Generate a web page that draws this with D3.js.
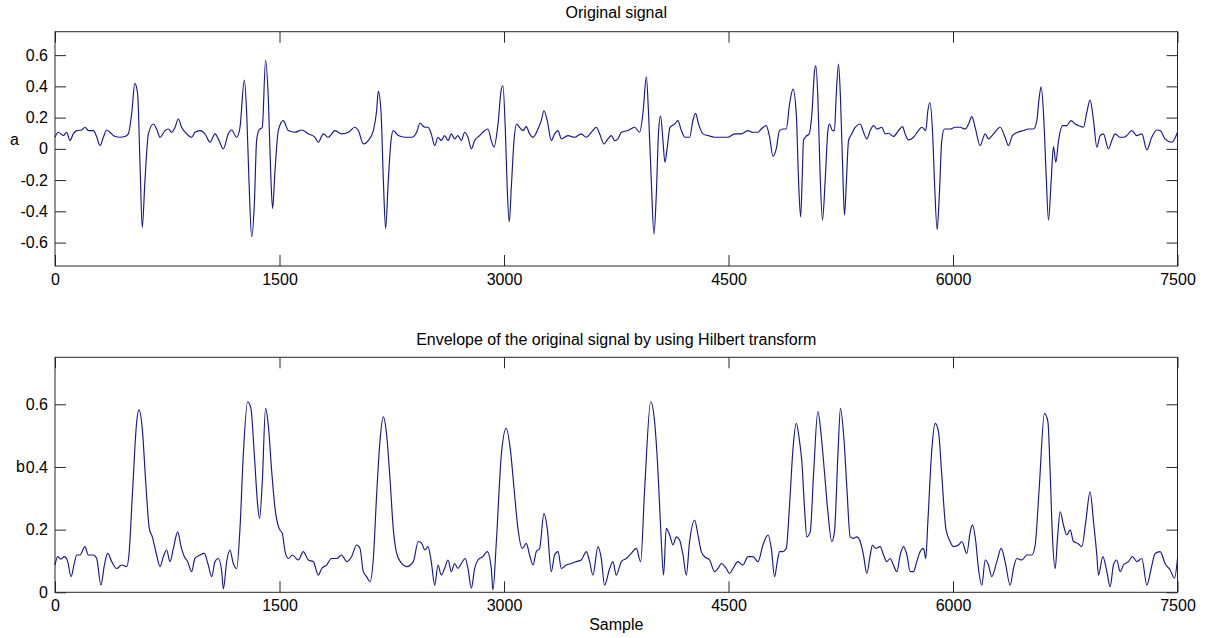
<!DOCTYPE html>
<html>
<head>
<meta charset="utf-8">
<script src="https://cdn.jsdelivr.net/npm/d3@7"></script>
<style>
  html, body { margin: 0; padding: 0; background: #ffffff; }
  svg { display: block; font-family: "Liberation Sans", Arial, Helvetica, sans-serif; }
</style>
</head>
<body>
<svg id="chart" width="1206" height="638"></svg>
<script>
// ---------- data ----------
const titleA = "Original signal";
const titleB = "Envelope of the original signal by using Hilbert transform";
const xLabel = "Sample";
const yLabelA = "a";
const yLabelB = "b";

const xTicks = [0, 1500, 3000, 4500, 6000, 7500];
const yTicksA = [-0.6, -0.4, -0.2, 0, 0.2, 0.4, 0.6];
const yTicksB = [0, 0.2, 0.4, 0.6];
const xDomain = [0, 7500];
const yDomainA = [-0.75, 0.75];
const yDomainB = [0, 0.75];

// Original signal (sample index, amplitude)
const sampleA = [0,22,56,78,100,122,145,178,200,223,256,278,301,323,345,367,401,434,468,490,512,534,552,568,583,601,624,657,679,702,735,757,779,802,824,846,880,913,935,969,1002,1036,1069,1091,1125,1158,1180,1214,1236,1265,1281,1296,1314,1332,1347,1363,1385,1407,1425,1443,1454,1470,1492,1525,1559,1603,1648,1693,1737,1759,1793,1826,1871,1915,1960,2004,2027,2060,2093,2127,2149,2160,2178,2194,2209,2227,2245,2260,2294,2338,2383,2416,2439,2472,
2492,2514,2537,2559,2581,2603,2626,2648,2670,2692,2715,2737,2759,2782,2804,2837,2871,2893,2915,2933,2960,2982,2993,3009,3022,3035,3049,3067,3084,3104,3127,3149,3171,3194,3227,3249,3267,3289,3316,3338,3361,3383,3427,3472,3516,3550,3583,3617,3639,3668,3695,3717,3739,3761,3784,3828,3873,3906,3928,3951,3966,3984,4002,4017,4033,4046,4062,4075,4091,4109,4140,4162,4185,4211,4240,4262,4280,4300,4329,4363,4407,4452,4496,4541,4585,4630,4663,4697,4719,4752,4775,4797,4819,4841,4864,4886,4908,4931,4953,4968,4982,4992,
5001,5017,5039,5057,5075,5084,5097,5112,5128,5146,5164,5175,5195,5208,5219,5235,5248,5262,5275,5288,5302,5324,5346,5380,5402,5424,5447,5469,5491,5524,5547,5569,5602,5636,5663,5680,5703,5736,5769,5792,5818,5832,5845,5863,5876,5894,5908,5925,5943,5981,6014,6048,6081,6104,6126,6148,6181,6215,6237,6271,6315,6348,6371,6397,6433,6471,6504,6538,6560,6576,6589,6605,6622,6638,6656,6671,6687,6705,6732,6760,6789,6816,6838,6872,6894,6916,6939,6961,6983,7005,7039,7061,7083,7117,7139,7161,7195,7228,7262,7295,7328,7362,7384,7417,7462,7500];
const signalA = [0.074,0.106,0.085,0.106,0.053,0.096,0.117,0.121,0.138,0.117,0.117,0.079,0.021,0.074,0.121,0.106,0.079,0.074,0.079,0.096,0.223,0.419,0.351,-0.096,-0.503,-0.202,0.096,0.159,0.127,0.074,0.117,0.127,0.106,0.138,0.191,0.138,0.096,0.074,0.106,0.117,0.096,0.042,0.096,0.064,0.0,0.096,0.121,0.074,0.138,0.440,0.223,-0.202,-0.563,-0.351,0.053,0.121,0.138,0.567,0.329,-0.202,-0.382,-0.138,0.117,0.181,0.117,0.106,0.121,0.096,0.074,0.042,0.096,0.074,0.117,0.096,0.106,0.138,0.117,0.032,0.053,0.117,0.244,0.368,0.244,-0.202,-0.510,-0.202,0.053,0.117,0.085,0.074,0.074,0.106,0.164,0.138,
0.138,0.096,0.021,0.074,0.053,0.085,0.053,0.096,0.064,0.085,0.053,0.106,0.074,0.0,0.053,0.085,0.117,0.127,0.053,0.011,0.159,0.382,0.404,0.117,-0.266,-0.467,-0.244,0.053,0.159,0.138,0.117,0.142,0.096,0.074,0.127,0.181,0.244,0.181,0.053,0.096,0.117,0.064,0.085,0.074,0.096,0.074,0.106,0.138,0.096,0.032,0.064,0.085,0.053,0.064,0.106,0.117,0.138,0.106,0.223,0.461,0.223,-0.202,-0.546,-0.308,0.117,0.212,0.053,-0.085,0.011,0.138,0.159,0.181,0.117,0.074,0.074,0.181,0.227,0.159,0.096,0.085,0.074,0.074,0.074,0.096,0.096,0.117,0.106,0.106,0.127,0.149,0.074,-0.049,0.0,0.117,0.127,0.127,0.287,0.382,0.223,-0.202,-0.436,-0.200,
0.053,0.079,0.096,0.223,0.499,0.531,0.329,-0.159,-0.457,-0.202,0.117,0.159,0.117,0.117,0.329,0.542,0.329,-0.096,-0.425,-0.202,0.053,0.096,0.138,0.159,0.106,0.064,0.117,0.149,0.127,0.138,0.096,0.100,0.079,0.117,0.142,0.096,0.057,0.074,0.117,0.138,0.117,0.244,0.297,0.117,-0.202,-0.516,-0.308,0.053,0.127,0.127,0.138,0.138,0.127,0.159,0.206,0.138,0.021,0.096,0.064,0.096,0.138,0.074,0.021,0.085,0.106,0.117,0.127,0.127,0.181,0.329,0.397,0.223,-0.159,-0.457,-0.202,0.015,-0.085,0.053,0.149,0.149,0.181,0.159,0.149,0.138,0.234,0.312,0.181,0.011,0.085,0.096,0.0,0.053,0.096,0.074,0.074,0.085,0.117,0.085,0.096,-0.006,0.074,0.121,0.117,0.064,0.042,0.106];

// Envelope (sample index, amplitude)
const sampleB = [0,18,40,62,85,107,129,145,167,200,223,256,278,307,330,352,379,412,445,479,494,517,546,561,583,606,630,650,679,702,724,746,768,791,820,842,864,886,913,935,969,998,1024,1047,1069,1091,1114,1125,1147,1169,1191,1214,1236,1258,1287,1309,1332,1354,1367,1385,1407,1425,1448,1470,1497,1519,1537,1559,1586,1626,1659,1693,1726,1759,1782,1815,1848,1882,1915,1949,1982,2015,2038,2060,2082,2105,2127,2149,2171,2194,2216,2238,2260,2283,2316,2349,2394,2427,2450,2472,
2492,2514,2537,2559,2581,2603,2626,2648,2670,2692,2715,2741,2759,2782,2804,2826,2859,2888,2915,2926,2949,2982,3015,3044,3067,3093,3122,3149,3171,3194,3216,3238,3267,3289,3316,3338,3361,3383,3416,3450,3483,3516,3550,3572,3594,3628,3650,3672,3706,3728,3750,3784,3817,3850,3884,3913,3940,3980,4006,4029,4051,4066,4084,4107,4129,4151,4173,4196,4218,4240,4274,4296,4318,4340,4374,4407,4430,4452,4485,4507,4530,4563,4596,4630,4663,4697,4730,4764,4786,4808,4826,4841,4864,4886,4908,4931,4953,4975,
4990,5008,5023,5046,5068,5097,5119,5141,5164,5190,5208,5231,5248,5271,5291,5313,5335,5357,5380,5402,5424,5447,5462,5484,5513,5536,5558,5580,5602,5625,5647,5669,5692,5714,5736,5758,5781,5803,5818,5832,5859,5881,5903,5925,5952,5981,6003,6037,6059,6092,6115,6130,6152,6170,6193,6215,6237,6259,6293,6322,6348,6382,6404,6426,6460,6493,6527,6549,6576,6611,6634,6649,6665,6683,6698,6716,6738,6760,6783,6805,6834,6861,6887,6916,6939,6961,6972,7001,7028,7050,7072,7094,7117,7139,7172,7199,7228,7262,7295,7324,7351,7384,7417,7451,7480,7500];
const envelopeB = [0.087,0.114,0.106,0.114,0.098,0.050,0.092,0.119,0.119,0.146,0.119,0.119,0.109,0.023,0.087,0.124,0.098,0.076,0.087,0.082,0.119,0.311,0.545,0.582,0.523,0.353,0.204,0.177,0.119,0.082,0.114,0.135,0.098,0.140,0.193,0.146,0.114,0.098,0.066,0.108,0.119,0.124,0.087,0.050,0.098,0.108,0.066,0.011,0.098,0.135,0.092,0.076,0.204,0.438,0.608,0.587,0.438,0.279,0.236,0.353,0.587,0.534,0.385,0.268,0.204,0.188,0.130,0.108,0.119,0.103,0.130,0.103,0.098,0.055,0.076,0.087,0.108,0.108,0.119,0.098,0.114,0.151,0.140,0.066,0.050,0.034,0.108,0.311,0.481,0.560,0.502,0.364,0.204,0.124,0.092,0.082,0.098,0.162,0.156,0.135,
0.146,0.098,0.023,0.087,0.055,0.076,0.103,0.066,0.092,0.076,0.092,0.108,0.076,0.013,0.076,0.103,0.114,0.130,0.076,0.007,0.162,0.438,0.523,0.449,0.332,0.204,0.140,0.156,0.119,0.087,0.130,0.140,0.252,0.204,0.066,0.119,0.130,0.076,0.087,0.092,0.098,0.103,0.130,0.098,0.055,0.146,0.108,0.023,0.076,0.098,0.055,0.098,0.108,0.124,0.140,0.098,0.332,0.608,0.545,0.385,0.162,0.055,0.204,0.183,0.151,0.177,0.167,0.119,0.055,0.162,0.230,0.183,0.130,0.114,0.103,0.066,0.076,0.092,0.076,0.060,0.076,0.098,0.087,0.114,0.114,0.098,0.151,0.183,0.140,0.050,0.098,0.130,0.130,0.140,0.279,0.459,0.539,0.481,
0.417,0.268,0.177,0.193,0.374,0.577,0.502,0.385,0.257,0.162,0.193,0.438,0.587,0.491,0.332,0.177,0.172,0.177,0.162,0.119,0.060,0.119,0.151,0.140,0.146,0.119,0.098,0.108,0.087,0.066,0.119,0.146,0.119,0.066,0.066,0.098,0.130,0.140,0.108,0.225,0.459,0.539,0.513,0.374,0.204,0.162,0.146,0.151,0.162,0.124,0.193,0.215,0.162,0.076,0.023,0.103,0.087,0.050,0.098,0.140,0.098,0.023,0.076,0.108,0.103,0.119,0.119,0.151,0.332,0.571,0.545,0.385,0.172,0.076,0.172,0.257,0.215,0.183,0.199,0.162,0.156,0.146,0.225,0.321,0.225,0.119,0.055,0.114,0.066,0.018,0.087,0.103,0.066,0.087,0.098,0.114,0.098,0.108,0.023,0.076,0.124,0.130,0.092,0.071,0.045,0.108];

// ---------- layout ----------
const svg = d3.select("#chart");
const left = 55, right = 1177.5;
const panels = [
  { top: 31.7, bottom: 266, domain: yDomainA, ticks: yTicksA, xs: sampleA, ys: signalA,
    title: titleA, titleY: 18, ylab: yLabelA, ylabX: 14.5, ylabY: 145 },
  { top: 357.3, bottom: 592.3, domain: yDomainB, ticks: yTicksB, xs: sampleB, ys: envelopeB,
    title: titleB, titleY: 345, ylab: yLabelB, ylabX: 20.5, ylabY: 472 }
];
const lineColor = "#17178a";
const axisColor = "#262626";
const tickLen = 11;
const fontSize = 16;
const fmt = d => (Math.abs(d) < 1e-9 ? "0" : d.toFixed(1));

const x = d3.scaleLinear().domain(xDomain).range([left, right]);

panels.forEach(p => {
  const y = d3.scaleLinear().domain(p.domain).range([p.bottom, p.top]);
  const g = svg.append("g");

  // data line
  const pts = p.xs.map((s, i) => [s, p.ys[i]]);
  const line = d3.line().x(d => x(d[0])).y(d => y(d[1])).curve(d3.curveMonotoneX);
  g.append("path").datum(pts)
    .attr("d", line)
    .attr("fill", "none")
    .attr("stroke", lineColor)
    .attr("stroke-width", 1.15)
    .attr("stroke-linejoin", "round");

  // axes (ticks pointing inward)
  const styleAxis = sel => {
    sel.select(".domain").remove();
    sel.selectAll(".tick line").attr("stroke", axisColor);
    sel.selectAll(".tick text").attr("fill", "#000").attr("font-size", fontSize)
      .attr("font-family", "'Liberation Sans', Arial, Helvetica, sans-serif");
  };
  g.append("g").attr("transform", `translate(0,${p.bottom})`)
    .call(d3.axisBottom(x).tickValues(xTicks).tickFormat(d3.format("d"))
      .tickSizeInner(-tickLen).tickSizeOuter(0).tickPadding(7.5))
    .call(styleAxis);
  g.append("g").attr("transform", `translate(0,${p.top})`)
    .call(d3.axisTop(x).tickValues(xTicks).tickFormat("")
      .tickSizeInner(-tickLen).tickSizeOuter(0))
    .call(styleAxis);
  g.append("g").attr("transform", `translate(${left},0)`)
    .call(d3.axisLeft(y).tickValues(p.ticks).tickFormat(fmt)
      .tickSizeInner(-tickLen).tickSizeOuter(0).tickPadding(7))
    .call(styleAxis);
  g.append("g").attr("transform", `translate(${right},0)`)
    .call(d3.axisRight(y).tickValues(p.ticks).tickFormat("")
      .tickSizeInner(-tickLen).tickSizeOuter(0))
    .call(styleAxis);

  // box
  g.append("rect").attr("x", left).attr("y", p.top)
    .attr("width", right - left).attr("height", p.bottom - p.top)
    .attr("fill", "none").attr("stroke", axisColor).attr("stroke-width", 1);

  // title
  svg.append("text").attr("x", (left + right) / 2).attr("y", p.titleY)
    .attr("text-anchor", "middle").attr("font-size", fontSize).attr("fill", "#000")
    .text(p.title);

  // y label
  svg.append("text").attr("x", p.ylabX).attr("y", p.ylabY)
    .attr("text-anchor", "middle").attr("font-size", fontSize).attr("fill", "#000")
    .text(p.ylab);
});

// x label
svg.append("text").attr("x", (left + right) / 2).attr("y", 630)
  .attr("text-anchor", "middle").attr("font-size", fontSize).attr("fill", "#000")
  .text(xLabel);
</script>
</body>
</html>
